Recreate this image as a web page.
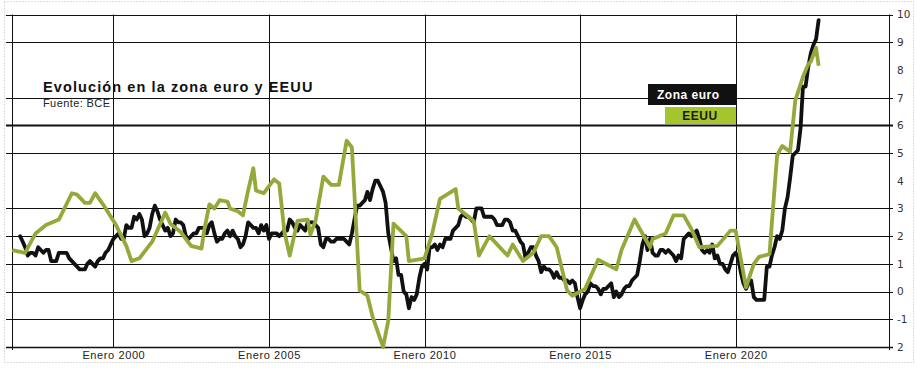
<!DOCTYPE html>
<html>
<head>
<meta charset="utf-8">
<script src="https://cdn.jsdelivr.net/npm/d3@7"></script>
<style>
  html, body { margin: 0; padding: 0; background: #fff; }
  svg { display: block; font-family: "Liberation Sans", Arial, sans-serif; }
</style>
</head>
<body>
<div id="wrapper"></div>
<script>
// Zona euro: IPCA interanual, mensual desde enero 1997
const euroStart = "1997-01";
const euroValues = [
  2.0, 1.8, 1.6, 1.3, 1.4, 1.4, 1.3, 1.6, 1.5, 1.4, 1.5, 1.5,
  1.1, 1.1, 1.1, 1.4, 1.4, 1.4, 1.4, 1.2, 1.1, 1.0, 0.9, 0.8,
  0.8, 0.8, 1.0, 1.1, 1.0, 0.9, 1.1, 1.2, 1.2, 1.4, 1.5, 1.7,
  1.9, 2.0, 2.1, 1.9, 1.9, 2.4, 2.3, 2.3, 2.7, 2.6, 2.8, 2.6,
  2.0, 2.1, 2.3, 2.8, 3.1, 2.9, 2.6, 2.4, 2.2, 2.3, 2.0, 2.1,
  2.6, 2.5, 2.5, 2.4, 2.0, 1.9, 2.0, 2.1, 2.1, 2.3, 2.3, 2.3,
  2.1, 2.4, 2.5, 2.1, 1.8, 1.9, 1.9, 2.1, 2.2, 2.0, 2.2, 2.0,
  1.9, 1.6, 1.7, 2.0, 2.5, 2.4, 2.3, 2.3, 2.1, 2.4, 2.2, 2.4,
  1.9, 2.1, 2.1, 2.1, 2.0, 2.1, 2.2, 2.2, 2.6, 2.5, 2.3, 2.2,
  2.4, 2.3, 2.2, 2.5, 2.5, 2.5, 2.4, 2.3, 1.7, 1.6, 1.9, 1.9,
  1.8, 1.8, 1.9, 1.9, 1.9, 1.9, 1.8, 1.7, 2.1, 2.6, 3.1, 3.1,
  3.2, 3.3, 3.6, 3.3, 3.7, 4.0, 4.0, 3.8, 3.6, 3.2, 2.1, 1.6,
  1.1, 1.2, 0.6, 0.6, 0.0, -0.1, -0.6, -0.2, -0.3, -0.1, 0.5, 0.9,
  1.0, 0.8, 1.6, 1.6, 1.7, 1.5, 1.7, 1.6, 1.9, 1.9, 1.9, 2.2,
  2.3, 2.4, 2.7, 2.8, 2.7, 2.7, 2.6, 2.5, 3.0, 3.0, 3.0, 2.7,
  2.7, 2.7, 2.7, 2.6, 2.4, 2.4, 2.4, 2.6, 2.6, 2.5, 2.2, 2.2,
  2.0, 1.8, 1.7, 1.2, 1.4, 1.6, 1.6, 1.3, 1.1, 0.7, 0.9, 0.8,
  0.8, 0.7, 0.5, 0.7, 0.5, 0.5, 0.4, 0.4, 0.3, 0.4, 0.3, -0.2,
  -0.6, -0.3, -0.1, 0.0, 0.3, 0.2, 0.2, 0.1, -0.1, 0.1, 0.1, 0.2,
  0.3, -0.2, 0.0, -0.2, -0.1, 0.1, 0.2, 0.2, 0.4, 0.5, 0.6, 1.1,
  1.7, 2.0, 1.5, 1.9, 1.4, 1.3, 1.3, 1.5, 1.5, 1.4, 1.5, 1.4,
  1.3, 1.1, 1.3, 1.2, 1.9, 2.0, 2.1, 2.0, 2.1, 2.2, 1.9, 1.5,
  1.4, 1.5, 1.4, 1.7, 1.2, 1.3, 1.0, 1.0, 0.8, 0.7, 1.0, 1.3,
  1.4, 1.2, 0.7, 0.3, 0.1, 0.3, 0.4, -0.2, -0.3, -0.3, -0.3, -0.3,
  0.9, 0.9, 1.3, 1.6, 2.0, 1.9, 2.2, 3.0, 3.4, 4.1, 4.9, 5.0,
  5.1, 5.9, 7.4, 7.4, 8.1, 8.6, 8.9, 9.1, 9.8
];

// EEUU: puntos
const usaDates = [
  "1996-10", "1997-03", "1997-07", "1997-11", "1998-04", "1998-09", "1998-11",
  "1999-02", "1999-04", "1999-06", "1999-09", "2000-02", "2000-06", "2000-08",
  "2000-11", "2001-04", "2001-09", "2001-11", "2002-03", "2002-07", "2002-11",
  "2002-12", "2003-02", "2003-04", "2003-06", "2003-09", "2003-10", "2004-01",
  "2004-03", "2004-05", "2004-07", "2004-08", "2004-11", "2005-03", "2005-05",
  "2005-07", "2005-09", "2005-12", "2006-04", "2006-05", "2006-07", "2006-10",
  "2007-01", "2007-04", "2007-07", "2007-09", "2007-12", "2008-03", "2008-05",
  "2008-09", "2008-11", "2009-01", "2009-06", "2009-07", "2010-01", "2010-04",
  "2010-07", "2011-01", "2011-02", "2011-08", "2011-10", "2012-02", "2012-09",
  "2012-11", "2013-03", "2013-07", "2013-10", "2014-01", "2014-04", "2014-08",
  "2014-10", "2015-03", "2015-08", "2016-03", "2016-05", "2016-10", "2017-04",
  "2017-05", "2017-10", "2018-01", "2018-05", "2018-08", "2018-11", "2019-06",
  "2019-11", "2020-01", "2020-05", "2020-08", "2020-10", "2021-02", "2021-05",
  "2021-06", "2021-07", "2021-10", "2021-12", "2022-03", "2022-05", "2022-06",
  "2022-08", "2022-09"
];
const usaValues = [
  1.5, 1.4, 2.1, 2.4, 2.6, 3.55, 3.5,
  3.2, 3.2, 3.55, 3.15, 2.4, 1.65, 1.1,
  1.2, 1.8, 2.85, 2.45, 2.15, 1.65, 1.55,
  2.2, 3.15, 3.0, 3.3, 3.25, 3.0, 2.9,
  2.75, 3.65, 4.45, 3.65, 3.55, 4.05, 3.9,
  2.15, 1.3, 2.55, 2.6, 2.05, 2.55, 4.15,
  3.85, 3.85, 5.45, 5.2, 0.05, -0.15, -0.9,
  -2.0, -1.05, 2.45, 2.0, 1.1, 1.2, 2.1,
  3.35, 3.7, 3.0, 2.55, 1.3, 2.0, 1.3,
  1.7, 1.1, 1.4, 2.0, 2.0, 1.6, 0.05,
  -0.15, 0.1, 1.15, 0.8, 1.5, 2.6, 1.6,
  1.9, 2.1, 2.75, 2.75, 2.25, 1.6, 1.65,
  2.2, 2.2, 0.15, 1.0, 1.25, 1.35, 4.9,
  5.1, 5.25, 5.05, 6.9, 7.75, 8.2, 8.3,
  8.8, 8.15
];

const yTickValues = [10, 9, 8, 7, 6, 5, 4, 3, 2, 1, 0, -1, -2];
const yTickLabels = ["10", "9", "8", "7", "6", "5", "4", "3", "2", "1", "0", "-1", "2"];
const yGridValues = [10, 9, 7, 6, 5, 3, 2, 1, 0, -1];
const xTickYears = [2000, 2005, 2010, 2015, 2020];
const xTickLabels = ["Enero 2000", "Enero 2005", "Enero 2010", "Enero 2015", "Enero 2020"];

const seriesNames = ["Zona euro", "EEUU"];

const euroColor = "#111";
const usaColor = "#93aa3a";
const usaLegendColor = "#a6c42c";

const dimensions = {
  width: 917,
  height: 368,
  left: 12,
  right: 889,
  top: 14.5,
  bottom: 347,
};

const parseMonth = d3.utcParse("%Y-%m");

const euroStartDate = parseMonth(euroStart);
const euroData = euroValues.map((v, i) => ({
  date: d3.utcMonth.offset(euroStartDate, i),
  value: v,
}));
const usaData = usaDates.map((d, i) => ({ date: parseMonth(d), value: usaValues[i] }));

const wrapper = d3
  .select("#wrapper")
  .append("svg")
  .attr("width", dimensions.width)
  .attr("height", dimensions.height);

// dotted frame
wrapper
  .append("rect")
  .attr("x", 4.5)
  .attr("y", 1.5)
  .attr("width", 909)
  .attr("height", 361)
  .attr("fill", "none")
  .attr("stroke", "#bbb")
  .attr("stroke-dasharray", "1,2");

const xScale = d3
  .scaleUtc()
  .domain([new Date(Date.UTC(1996, 8, 28)), new Date(Date.UTC(2024, 11, 5))])
  .range([dimensions.left, dimensions.right]);

const yScale = d3
  .scaleLinear()
  .domain([-2, 10])
  .range([dimensions.bottom, dimensions.top]);

const grid = wrapper.append("g").attr("stroke", "#111");

// horizontal grid lines
grid
  .selectAll("line.h")
  .data(yGridValues)
  .join("line")
  .attr("class", "h")
  .attr("x1", dimensions.left - 6)
  .attr("x2", dimensions.right + 4)
  .attr("y1", (d) => Math.round(yScale(d)) + 0.5)
  .attr("y2", (d) => Math.round(yScale(d)) + 0.5)
  .attr("stroke-width", (d) => (d === 6 ? 2.2 : 1));

// vertical grid lines at the year ticks
grid
  .selectAll("line.v")
  .data(xTickYears)
  .join("line")
  .attr("class", "v")
  .attr("x1", (d) => Math.round(xScale(new Date(Date.UTC(d, 0, 1)))) + 0.5)
  .attr("x2", (d) => Math.round(xScale(new Date(Date.UTC(d, 0, 1)))) + 0.5)
  .attr("y1", dimensions.top)
  .attr("y2", dimensions.bottom);

// left and right frame lines
grid
  .selectAll("line.side")
  .data([dimensions.left, dimensions.right])
  .join("line")
  .attr("class", "side")
  .attr("x1", (d) => d + 0.5)
  .attr("x2", (d) => d + 0.5)
  .attr("y1", dimensions.top)
  .attr("y2", dimensions.bottom + 3);

// bottom axis line
grid
  .append("line")
  .attr("x1", dimensions.left - 6)
  .attr("x2", dimensions.right + 4)
  .attr("y1", dimensions.bottom + 0.5)
  .attr("y2", dimensions.bottom + 0.5)
  .attr("stroke-width", 1.3);

// right axis labels
const yAxisGenerator = d3
  .axisRight(yScale)
  .tickValues(yTickValues)
  .tickSize(0)
  .tickPadding(0)
  .tickFormat((d, i) => yTickLabels[i]);

const yAxis = wrapper
  .append("g")
  .attr("transform", `translate(${dimensions.right + 8}, 0)`)
  .call(yAxisGenerator);
yAxis.select(".domain").remove();
yAxis
  .selectAll("text")
  .attr("x", 0)
  .style("font-size", "10.5px")
  .style("fill", "#333")
  .style("font-family", "'DejaVu Sans', sans-serif");

// bottom axis labels
const xAxisGenerator = d3
  .axisBottom(xScale)
  .tickValues(xTickYears.map((y) => new Date(Date.UTC(y, 0, 1))))
  .tickSize(0)
  .tickPadding(0)
  .tickFormat((d, i) => xTickLabels[i]);

const xAxis = wrapper
  .append("g")
  .attr("transform", `translate(0, ${dimensions.bottom})`)
  .call(xAxisGenerator);
xAxis.select(".domain").remove();
xAxis
  .selectAll("text")
  .attr("y", 4)
  .style("font-size", "11px")
  .style("letter-spacing", "0.6px")
  .style("fill", "#222");

// lines
const lineGenerator = d3
  .line()
  .x((d) => xScale(d.date))
  .y((d) => yScale(d.value));

wrapper
  .append("path")
  .datum(euroData)
  .attr("d", lineGenerator)
  .attr("fill", "none")
  .attr("stroke", euroColor)
  .attr("stroke-width", 3.8)
  .attr("stroke-linejoin", "round")
  .attr("stroke-linecap", "round");

wrapper
  .append("path")
  .datum(usaData)
  .attr("d", lineGenerator)
  .attr("fill", "none")
  .attr("stroke", usaColor)
  .attr("stroke-width", 3.8)
  .attr("stroke-linejoin", "round")
  .attr("stroke-linecap", "butt");

// title
wrapper
  .append("text")
  .attr("x", 43)
  .attr("y", 92)
  .style("font-size", "14.5px")
  .style("font-weight", "bold")
  .style("letter-spacing", "1.1px")
  .style("fill", "#111")
  .text("Evolución en la zona euro y EEUU");

wrapper
  .append("text")
  .attr("x", 43)
  .attr("y", 106.5)
  .style("font-size", "11px")
  .style("letter-spacing", "0.4px")
  .style("fill", "#222")
  .text("Fuente: BCE");

// legend
const legend = wrapper.append("g");
legend
  .append("rect")
  .attr("x", 648)
  .attr("y", 84)
  .attr("width", 89)
  .attr("height", 21)
  .attr("fill", euroColor);
legend
  .append("text")
  .attr("x", 657)
  .attr("y", 99)
  .style("font-size", "12px")
  .style("font-weight", "bold")
  .style("letter-spacing", "0.5px")
  .style("fill", "#fff")
  .text(seriesNames[0]);
legend
  .append("rect")
  .attr("x", 665)
  .attr("y", 107)
  .attr("width", 71)
  .attr("height", 17)
  .attr("fill", usaLegendColor);
legend
  .append("text")
  .attr("x", 700)
  .attr("y", 120)
  .attr("text-anchor", "middle")
  .style("font-size", "12px")
  .style("font-weight", "bold")
  .style("letter-spacing", "0.5px")
  .style("fill", "#1a1a1a")
  .text(seriesNames[1]);
</script>
</body>
</html>
